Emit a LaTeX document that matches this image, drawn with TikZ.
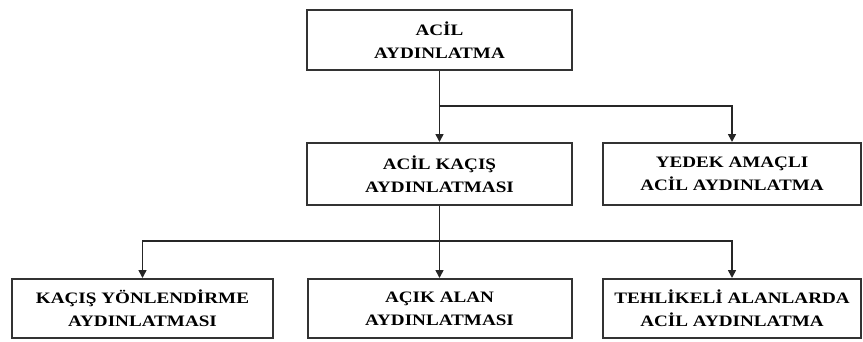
\documentclass[tikz,border=0pt]{standalone}
\usepackage{fontspec}
\setmainfont{Liberation Serif}
\newfontfamily\boxfont[FakeStretch=1.2]{Liberation Serif}
\usetikzlibrary{arrows.meta,positioning}

\begin{document}
\begin{tikzpicture}[x=1bp,y=-1bp,
    box/.style={draw=black!80,line width=2bp,fill=white,align=center,
      inner sep=0pt,minimum height=60bp,
      font=\boxfont\fontsize{16}{23}\selectfont\bfseries},
    arr/.style={draw=black!85,line width=1.6bp,-{Triangle[length=8bp,width=8bp]}}]

    \useasboundingbox (0,0) rectangle (863,341);

    % --- top level ---
    \node[box,minimum width=265bp] (acil) at (439.5,40) {ACİL\\AYDINLATMA};

    % --- second level ---
    \node[box,minimum width=265bp,minimum height=62bp] (kacis) at (439.5,174) {ACİL KAÇIŞ\\AYDINLATMASI};
    \node[box,minimum width=258bp,minimum height=62bp] (yedek) at (732,174) {YEDEK AMAÇLI\\ACİL AYDINLATMA};

    % --- third level ---
    \node[box,minimum width=261bp,minimum height=59bp] (yon) at (142.5,308.5) {KAÇIŞ YÖNLENDİRME\\AYDINLATMASI};
    \node[box,minimum width=264bp,minimum height=59bp] (acik) at (439.5,308.5) {AÇIK ALAN\\AYDINLATMASI};
    \node[box,minimum width=258bp,minimum height=59bp] (tehlike) at (732,308.5) {TEHLİKELİ ALANLARDA\\ACİL AYDINLATMA};

    % --- branch points ---
    \coordinate (j1) at (439.5,106);
    \coordinate (j2) at (439.5,241);

    % --- connectors ---
    \draw[arr] (acil.south) -- (kacis.north);
    \draw[arr] (j1) -| (yedek.north);
    \draw[arr] (kacis.south) -- (acik.north);
    \draw[arr] (j2) -| (yon.north);
    \draw[arr] (j2) -| (tehlike.north);

\end{tikzpicture}
\end{document}
